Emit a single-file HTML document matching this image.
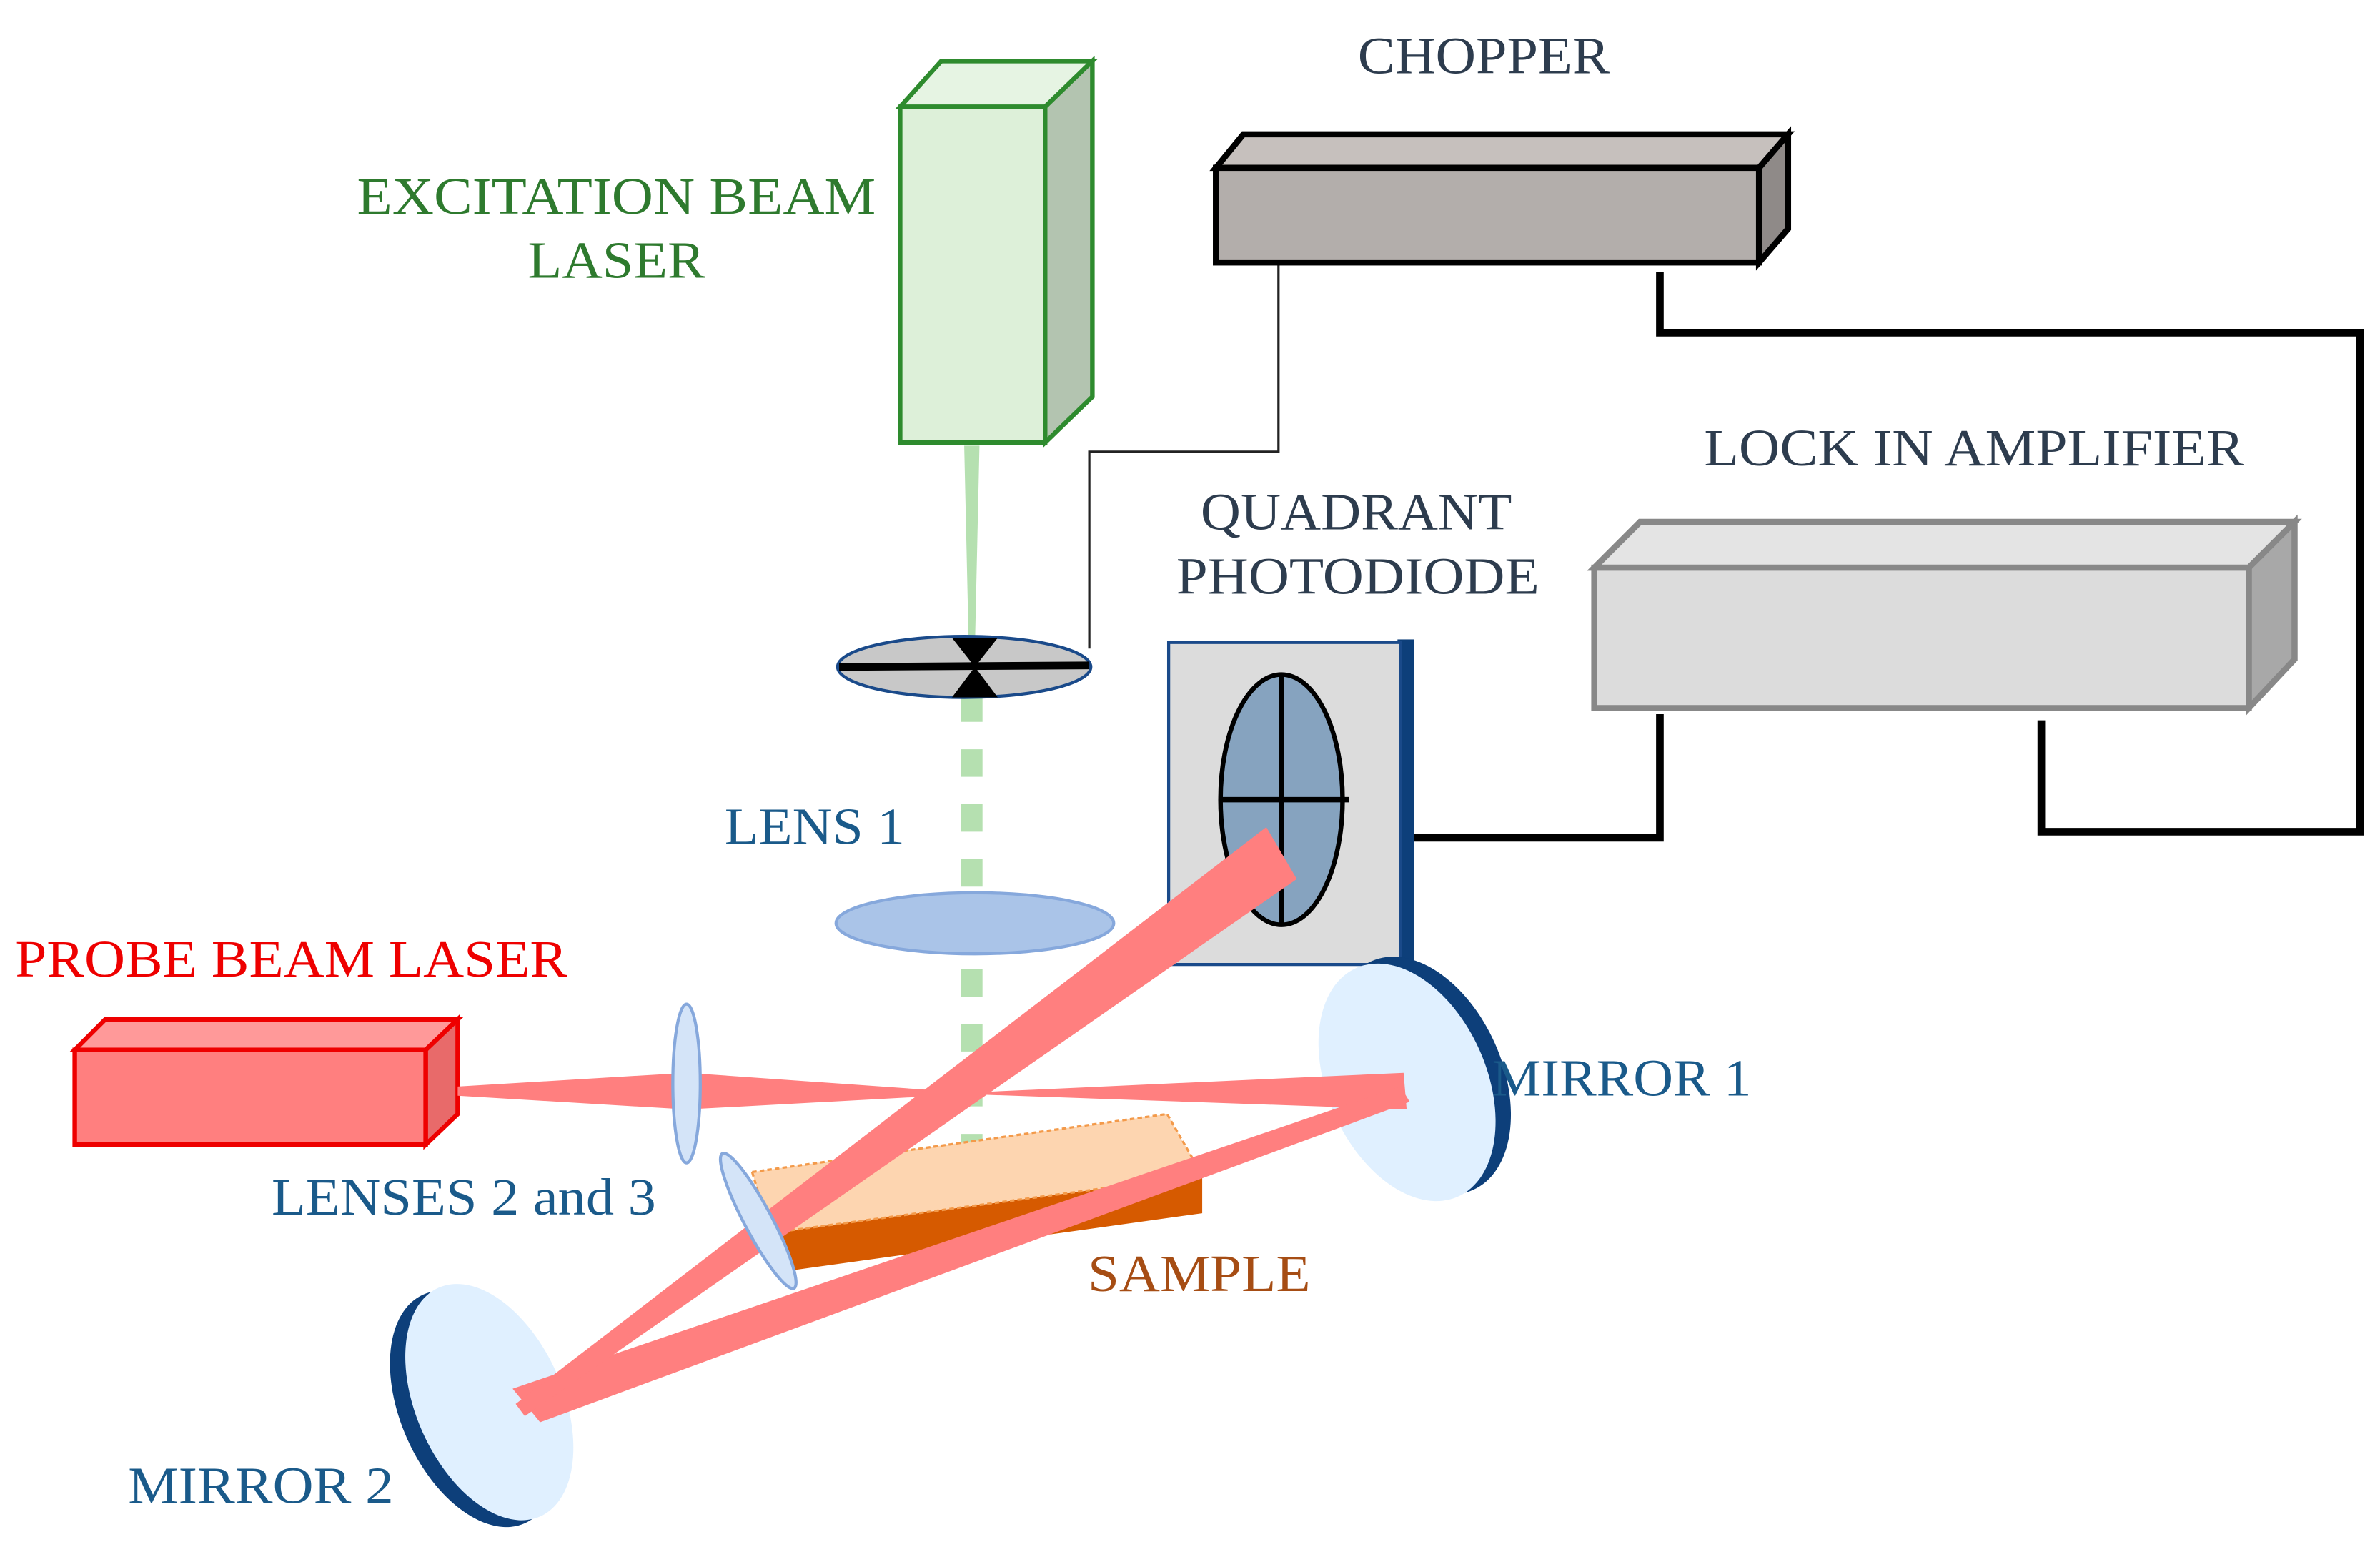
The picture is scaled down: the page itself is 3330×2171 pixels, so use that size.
<!DOCTYPE html>
<html><head><meta charset="utf-8"><style>html,body{margin:0;padding:0;background:#fff}svg{display:block}</style></head>
<body>
<svg width="3330" height="2171" viewBox="0 0 1560 1017" preserveAspectRatio="none" xmlns="http://www.w3.org/2000/svg" font-family="'Liberation Serif',serif">
<rect width="1560" height="1017" fill="#fff"/>
<!-- green laser -->
<polygon points="590,70 617,40 716,40 685,70" fill="#e6f4e3" stroke="#2e8b2e" stroke-width="3"/>
<polygon points="685,70 716,40 716,260 685,290" fill="#b3c4b0" stroke="#2e8b2e" stroke-width="3"/>
<rect x="590" y="70" width="95" height="220" fill="#ddf0d9" stroke="#2e8b2e" stroke-width="3"/>
<polygon points="632,292 642,292 639,425 635,425" fill="#b5e0b0"/>
<line x1="637" y1="455" x2="637" y2="768" stroke="#b5e0b0" stroke-width="14" stroke-dasharray="18,18"/>
<!-- chopper wire thin -->
<polyline points="838,172 838,296 714,296 714,425" fill="none" stroke="#222" stroke-width="1.5"/>
<!-- chopper wheel -->
<ellipse cx="632" cy="437" rx="83" ry="20" fill="#c8c8c8" stroke="#1a4a8a" stroke-width="2"/>
<line x1="550" y1="437" x2="714" y2="436" stroke="#000" stroke-width="5"/>
<polygon points="624,418 654,418 639,437" fill="#000"/>
<polygon points="624,457 654,457 639,437" fill="#000"/>
<!-- chopper box -->
<polygon points="797,110 815,88 1172,88 1153,110" fill="#c6c0bd" stroke="#000" stroke-width="4"/>
<polygon points="1153,110 1172,88 1172,150 1153,172" fill="#8f8a88" stroke="#000" stroke-width="4"/>
<rect x="797" y="110" width="356" height="62" fill="#b3aeab" stroke="#000" stroke-width="4"/>
<!-- thick wires -->
<polyline points="1088,178 1088,218 1547,218 1547,545 1338,545 1338,472" fill="none" stroke="#000" stroke-width="5"/>
<polyline points="1088,468 1088,549 926,549" fill="none" stroke="#000" stroke-width="5"/>
<!-- lock in -->
<polygon points="1045,372 1075,342 1504,342 1474,372" fill="#e4e4e4" stroke="#888" stroke-width="4"/>
<polygon points="1474,372 1504,342 1504,432 1474,464" fill="#a8a8a8" stroke="#888" stroke-width="4"/>
<rect x="1045" y="372" width="429" height="92" fill="#dcdcdc" stroke="#888" stroke-width="4"/>
<!-- photodiode -->
<rect x="916" y="419" width="11" height="213" fill="#0d3f7a"/>
<rect x="766" y="421" width="152" height="211" fill="#dcdcdc" stroke="#1a4a8a" stroke-width="2"/>
<ellipse cx="840" cy="524" rx="40" ry="82" fill="#86a3bf" stroke="#000" stroke-width="3"/>
<line x1="840" y1="442" x2="840" y2="606" stroke="#000" stroke-width="3.5"/>
<line x1="800" y1="524" x2="884" y2="524" stroke="#000" stroke-width="3.5"/>
<!-- lens1 -->
<ellipse cx="639" cy="605" rx="91" ry="20" fill="#aac4e8" stroke="#86a8dc" stroke-width="2"/>
<!-- sample -->
<polygon points="505,808 788,770 788,795 515,833" fill="#d65a00"/>
<polygon points="493,768 765,730 788,770 505,808" fill="#fdd5b0" stroke="#f39a4a" stroke-width="1.5" stroke-dasharray="3,2"/>
<!-- mirrors -->
<g transform="rotate(-24 925 708)">
<ellipse cx="933" cy="708" rx="52" ry="82" fill="#0d3f7a"/>
<ellipse cx="922" cy="708" rx="52" ry="82" fill="#e0f0ff"/>
</g>
<g transform="rotate(-24 318 920)">
<ellipse cx="310" cy="920" rx="48" ry="82" fill="#0d3f7a"/>
<ellipse cx="321" cy="920" rx="48" ry="82" fill="#e0f0ff"/>
</g>
<!-- probe laser -->
<polygon points="49,688 69,668 300,668 279,688" fill="#ff9999" stroke="#e00" stroke-width="3"/>
<polygon points="279,688 300,668 300,730 279,750" fill="#e86a6a" stroke="#e00" stroke-width="3"/>
<rect x="49" y="688" width="230" height="62" fill="#ff7f7f" stroke="#e00" stroke-width="3"/>
<!-- red beams -->
<g fill="#ff7f7f">
<polygon points="300,712 450,703 450,727 300,718"/>
<polygon points="450,703 635,716 920,703 922,727 635,717 450,727"/>
<polygon points="918,712 924,722 354,932 336,910"/>
<polygon points="338,920 830,542 850,576 344,928"/>
</g>
<!-- lenses 2 and 3 -->
<ellipse cx="450" cy="710" rx="9" ry="52" fill="#d4e4f8" stroke="#86a8dc" stroke-width="2"/>
<ellipse cx="497" cy="800" rx="9" ry="50" transform="rotate(-28 497 800)" fill="#d4e4f8" stroke="#86a8dc" stroke-width="2"/>
<!-- labels -->
<g font-size="34">
<text x="234" y="140" fill="#2e7a2e" textLength="340" lengthAdjust="spacingAndGlyphs">EXCITATION BEAM</text>
<text x="346" y="182" fill="#2e7a2e" textLength="116" lengthAdjust="spacingAndGlyphs">LASER</text>
<text x="890" y="48" fill="#2d3c4e" textLength="165" lengthAdjust="spacingAndGlyphs">CHOPPER</text>
<text x="1117" y="305" fill="#2d3c4e" textLength="354" lengthAdjust="spacingAndGlyphs">LOCK IN AMPLIFIER</text>
<text x="787" y="347" fill="#2d3c4e" textLength="204" lengthAdjust="spacingAndGlyphs">QUADRANT</text>
<text x="771" y="389" fill="#2d3c4e" textLength="238" lengthAdjust="spacingAndGlyphs">PHOTODIODE</text>
<text x="475" y="553" fill="#1a5a8a" textLength="118" lengthAdjust="spacingAndGlyphs">LENS 1</text>
<text x="10" y="640" fill="#e00" textLength="362" lengthAdjust="spacingAndGlyphs">PROBE BEAM LASER</text>
<text x="978" y="718" fill="#1a5a8a" textLength="170" lengthAdjust="spacingAndGlyphs">MIRROR 1</text>
<text x="178" y="796" fill="#1a5a8a" textLength="252" lengthAdjust="spacingAndGlyphs">LENSES 2 and 3</text>
<text x="713" y="846" fill="#a64d14" textLength="146" lengthAdjust="spacingAndGlyphs">SAMPLE</text>
<text x="84" y="985" fill="#1a5a8a" textLength="174" lengthAdjust="spacingAndGlyphs">MIRROR 2</text>
</g>
</svg>
</body></html>
